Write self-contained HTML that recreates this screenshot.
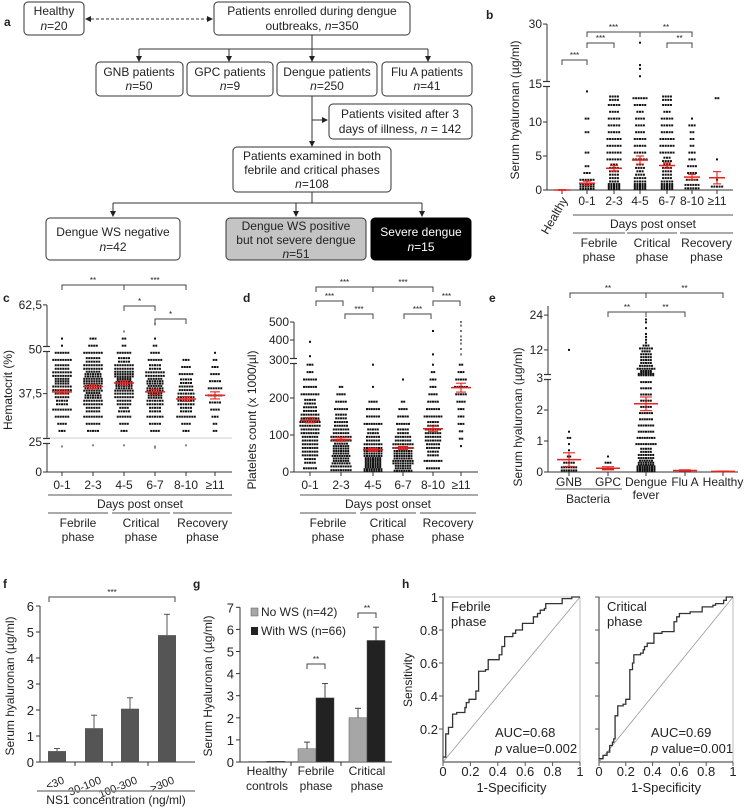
<!DOCTYPE html>
<html><head><meta charset="utf-8"><style>
html,body{margin:0;padding:0;background:#fff}
svg{display:block;font-family:"Liberation Sans",sans-serif}
text{fill:#222}
</style></head><body>
<svg id="fig" width="745" height="808" viewBox="0 0 745 808" xmlns="http://www.w3.org/2000/svg">
<defs><marker id="ah" markerWidth="6" markerHeight="6" refX="5" refY="3" orient="auto"><path d="M0,0 L6,3 L0,6 z" fill="#222"/></marker>
<marker id="ahs" markerWidth="6" markerHeight="6" refX="1" refY="3" orient="auto"><path d="M6,0 L0,3 L6,6 z" fill="#222"/></marker></defs>
<g id="panelA" font-size="12" text-anchor="middle" stroke-width="1">
<text x="4" y="26" font-weight="bold" text-anchor="start" font-size="12">a</text>
<rect x="24" y="2" width="60" height="33" rx="4" fill="#fff" stroke="#333"/>
<text x="54" y="15">Healthy</text><text x="54" y="30"><tspan font-style="italic">n</tspan>=20</text>
<line x1="86" y1="19" x2="212" y2="19" stroke="#333" stroke-dasharray="3,2" marker-end="url(#ah)" marker-start="url(#ahs)"/>
<rect x="214" y="2" width="196" height="33" rx="4" fill="#fff" stroke="#333"/>
<text x="312" y="15">Patients enrolled during dengue</text><text x="312" y="30">outbreaks, <tspan font-style="italic">n</tspan>=350</text>
<path d="M312,35 V49 M139,49 H428" stroke="#333" fill="none"/>
<line x1="139" y1="49" x2="139" y2="61" stroke="#333" marker-end="url(#ah)"/>
<line x1="229" y1="49" x2="229" y2="61" stroke="#333" marker-end="url(#ah)"/>
<line x1="312" y1="49" x2="312" y2="61" stroke="#333" marker-end="url(#ah)"/>
<line x1="428" y1="49" x2="428" y2="61" stroke="#333" marker-end="url(#ah)"/>
<rect x="96" y="62" width="87" height="34" rx="4" fill="#fff" stroke="#333"/>
<text x="139" y="76">GNB patients</text><text x="139" y="90"><tspan font-style="italic">n</tspan>=50</text>
<rect x="187" y="62" width="86" height="34" rx="4" fill="#fff" stroke="#333"/>
<text x="230" y="76">GPC patients</text><text x="230" y="90"><tspan font-style="italic">n</tspan>=9</text>
<rect x="277" y="62" width="100" height="34" rx="4" fill="#fff" stroke="#333"/>
<text x="327" y="76">Dengue patients</text><text x="327" y="90"><tspan font-style="italic">n</tspan>=250</text>
<rect x="382" y="62" width="90" height="34" rx="4" fill="#fff" stroke="#333"/>
<text x="427" y="76">Flu A patients</text><text x="427" y="90"><tspan font-style="italic">n</tspan>=41</text>
<path d="M312,96 V146" stroke="#333" marker-end="url(#ah)"/>
<line x1="312" y1="120" x2="327" y2="120" stroke="#333" marker-end="url(#ah)"/>
<rect x="329" y="104" width="143" height="35" rx="4" fill="#fff" stroke="#333"/>
<text x="400" y="118">Patients visited after 3</text><text x="400" y="133">days of illness, <tspan font-style="italic">n</tspan> = 142</text>
<rect x="233" y="147" width="158" height="45" rx="4" fill="#fff" stroke="#333"/>
<text x="312" y="160">Patients examined in both</text><text x="312" y="174">febrile and critical phases</text><text x="312" y="188"><tspan font-style="italic">n</tspan>=108</text>
<path d="M312,192 V203 M113,203 H422" stroke="#333" fill="none"/>
<line x1="113" y1="203" x2="113" y2="216" stroke="#333" marker-end="url(#ah)"/>
<line x1="296" y1="203" x2="296" y2="216" stroke="#333" marker-end="url(#ah)"/>
<line x1="422" y1="203" x2="422" y2="216" stroke="#333" marker-end="url(#ah)"/>
<rect x="46" y="218" width="134" height="42" rx="4" fill="#fff" stroke="#333"/>
<text x="113" y="236">Dengue WS negative</text><text x="113" y="251"><tspan font-style="italic">n</tspan>=42</text>
<rect x="226" y="218" width="140" height="42" rx="4" fill="#c4c4c4" stroke="#333"/>
<text x="296" y="230">Dengue WS positive</text><text x="296" y="244">but not severe dengue</text><text x="296" y="258"><tspan font-style="italic">n</tspan>=51</text>
<rect x="371" y="218" width="100" height="42" rx="4" fill="#000" stroke="#000"/>
<text x="421" y="236" style="fill:#fff">Severe dengue</text><text x="421" y="251" style="fill:#fff"><tspan font-style="italic">n</tspan>=15</text>
</g>
<g id="charts"></g>
</svg>
<script>
// ---- data arrays ----
const bCats = ['Healthy','0-1','2-3','4-5','6-7','8-10','≥11'];
const bBins = [[0],[18,6,3,2,0,2,0,0,2,0,2,0,0,0],[20,8,8,7,6,6,6,6,5,5,5,4,5,8],[20,10,7,7,6,5,5,5,4,4,4,3,5,6],[20,9,8,7,7,6,6,6,5,5,5,3,4,8],[12,5,4,4,3,3,2,2,2,3,1,0,0,0],[5,1,0,0,1,0,0,0,0,0,0,0,0,2]];
const bExtras = [[],[14.5],[],[16,18,19,25],[],[],[]];
const bMeans = [0,1.0,3.2,4.4,3.6,1.9,1.8];
const bSem = [0.05,0.3,0.4,0.6,0.4,0.4,0.9];
const bTicks = [0,5,10,15,30];

const cCats = ['0-1','2-3','4-5','6-7','8-10','≥11'];
const cBins = [[3,4,6,8,10,12,16,18,16,12,8,6,1,1],[5,6,8,12,16,20,22,24,20,16,12,8,4,3],[3,4,6,9,12,16,22,26,24,16,10,6,2,2],[4,5,7,10,14,18,20,20,16,10,6,4,2,1],[3,4,8,10,14,14,12,10,6,4,3,0,0,0],[2,2,3,4,5,6,6,5,4,3,2,1,0,0]];
const cExtras = [[22],[23],[23,55],[21,22,57],[23],[]];
const cMeans = [38,39.5,40.5,38,36,37];
const cSem = [0.6,0.6,0.7,0.7,0.7,1.0];
const cTicks = [0,25,37.5,50,62.5];
const cTickLabels = ['0','25','37,5','50','62,5'];

const dCats = ['0-1','2-3','4-5','6-7','8-10','≥11'];
const dBins = [[6,10,14,14,14,16,18,16,12,10,8,6,6,3,3],[18,22,22,20,18,14,12,10,6,5,4,2,0,0,0],[30,28,24,16,12,10,8,6,6,4,0,1,0,0,1],[22,26,24,18,14,10,6,5,4,2,0,0,1,0,0],[6,8,10,12,14,14,10,8,6,5,4,3,3,2,1],[0,0,0,1,2,2,3,3,3,4,5,6,5,3,2]];
const dExtras = [[310,390],[],[],[],[320,450],[320,350,380,400,420,450,480,500]];
const dMeans = [140,88,60,65,117,228];
const dSem = [7,5,4,4,7,12];
const dTicks = [0,100,200,300,400,500];

const eCats = ['GNB','GPC','Dengue','Flu A','Healthy'];
const eBins = [[14,5,2,1,1,2,1,0,0,0,0,0,0,0,0],[5,3,1,0,0,0,0,0,0,0,0,0,0,0,0],[40,20,14,10,9,8,7,7,6,6,5,5,5,5,5],[0],[0]];
const eUpperBins = [[0],[0],[14,10,8,6,5,5,5,5,4,6,3,1,1,1,1,0,1,0,1,1],[0],[0]];
const eExtras = [[12],[],[],[],[]];
const eMeans = [0.4,0.12,2.2,0.05,0.02];
const eSem = [0.22,0.05,0.22,0.02,0.01];
const eTicks = [0,1,2,3,12,24];

const fCats = ['<30','30-100','100-300','>300'];
const fVals = [0.42,1.3,2.05,4.88];
const fErr = [0.1,0.5,0.42,0.8];
const fTicks = [0,1,2,3,4,5,6];

const gCats = ['Healthy|controls','Febrile|phase','Critical|phase'];
const gNoWS = [0.03,0.6,2.0];
const gNoWSErr = [0,0.3,0.43];
const gWS = [0.03,2.9,5.5];
const gWSErr = [0,0.65,0.6];
const gTicks = [0,1,2,3,4,5,6,7];

const rocFebX = [0,0.02,0.02,0.04,0.04,0.07,0.07,0.1,0.14,0.16,0.17,0.19,0.23,0.24,0.26,0.26,0.3,0.31,0.33,0.4,0.41,0.43,0.45,0.5,0.51,0.53,0.57,0.58,0.65,0.66,0.69,0.71,0.74,0.75,0.86,0.87,0.93,0.94,1];
const rocFebY = [0.03,0.03,0.17,0.17,0.21,0.21,0.29,0.3,0.3,0.33,0.36,0.38,0.38,0.43,0.44,0.55,0.55,0.56,0.62,0.62,0.65,0.7,0.76,0.76,0.78,0.8,0.8,0.84,0.84,0.88,0.9,0.92,0.93,0.96,0.96,0.99,0.99,1,1];
const rocCritX = [0,0.03,0.06,0.08,0.1,0.11,0.12,0.14,0.18,0.2,0.22,0.23,0.25,0.26,0.31,0.33,0.34,0.36,0.41,0.47,0.53,0.56,0.58,0.6,0.68,0.77,0.85,0.87,0.93,0.95,1];
const rocCritY = [0.02,0.04,0.06,0.1,0.12,0.14,0.28,0.34,0.35,0.38,0.38,0.56,0.6,0.65,0.66,0.68,0.7,0.72,0.78,0.79,0.79,0.85,0.88,0.9,0.91,0.94,0.95,0.96,0.98,1,1];
const rocTicks = [0,0.2,0.4,0.6,0.8,1];

// ---- helpers ----
const NS='http://www.w3.org/2000/svg';
const root=document.getElementById('charts');
function mk(parent,tag,attrs,name,inter){
  const el=document.createElementNS(NS,tag);
  for(const k in attrs) el.setAttribute(k,attrs[k]);
  
  
  parent.appendChild(el); return el;
}
function txt(p,x,y,s,name,opt){
  const o=Object.assign({x:x,y:y,'font-size':12,'text-anchor':'middle'},opt||{});
  const t=mk(p,'text',o,name,false); t.textContent=s; return t;
}
function line(p,x1,y1,x2,y2,name,col,w){
  return mk(p,'line',{x1:x1,y1:y1,x2:x2,y2:y2,stroke:col||'#333','stroke-width':w||1},name,false);
}
function bracket(p,x1,x2,y,label){
  const g=mk(p,'g',{},'significance-bracket',false);
  mk(g,'path',{d:`M${x1},${y+5}V${y}H${x2}V${y+5}`,fill:'none',stroke:'#444','stroke-width':1},'bracket-line',false);
  txt(g,(x1+x2)/2,y-2,label,'significance-stars',{'font-size':8});
}
function swarm(p,cx,bins,lo,bw,sc,maxPer,sp,col){
  bins.forEach((n,k)=>{
    if(!n) return;
    const rows=Math.ceil(n/maxPer); let left=n;
    for(let r=0;r<rows;r++){
      const m=Math.ceil(left/(rows-r)); left-=m;
      const v=lo+k*bw+(r+0.5)/rows*bw; const y=sc(v);
      for(let j=0;j<m;j++){
        const x=cx+(j-(m-1)/2)*sp;
        mk(p,'rect',{x:x-1,y:y-1,width:2,height:2,fill:col||'#111'},'data-point',false);
      }
    }
  });
}
function extrasDots(p,cx,vals,sc,col){
  vals.forEach(v=>{
    mk(p,'rect',{x:cx-1,y:sc(v)-1,width:2,height:2,fill:col||'#111'},'outlier-point',false);
  });
}
function meanMark(p,cx,m,s,sc,w){
  const g=mk(p,'g',{},'mean-sem-marker',false);
  line(g,cx-w,sc(m),cx+w,sc(m),'mean-line','#e8231f',1.5);
  line(g,cx,sc(m-s),cx,sc(m+s),'sem-line','#e8231f',1.1);
  line(g,cx-w/2,sc(m-s),cx+w/2,sc(m-s),'sem-cap','#e8231f',1.1);
  line(g,cx-w/2,sc(m+s),cx+w/2,sc(m+s),'sem-cap','#e8231f',1.1);
}
function breakMark(p,x,y){
  mk(p,'rect',{x:x-4,y:y-2.5,width:8,height:5,fill:'#fff'},'axis-break-gap',false);
  line(p,x-4,y-2.5,x+3,y-2.5,'axis-break-mark','#333',1.2);
  line(p,x-4,y+2.5,x+3,y+2.5,'axis-break-mark','#333',1.2);
}
function phaseLabels(p,xs,y0,name){
  const labs=[['Febrile','phase'],['Critical','phase'],['Recovery','phase']];
  xs.forEach((seg,i)=>{
    line(p,seg[0],y0,seg[1],y0,name+'-phase-line','#555',1);
    txt(p,(seg[0]+seg[1])/2,y0+14,labs[i][0],'phase-label');
    txt(p,(seg[0]+seg[1])/2,y0+28,labs[i][1],'phase-label');
  });
}

// ---- panel b ----
(function(){
  const p=mk(root,'g',{},'panel-b-hyaluronan-by-day',false);
  txt(p,486,19,'b','panel-label-b',{'font-weight':'bold','font-size':12,'text-anchor':'start'});
  const ax=547, y0=190;
  const sc=v=> v<=15 ? y0-v*6.8 : 80-(v-15)*3.73;
  const xs=[562,587,614,640,667,692,717];
  line(p,ax,24,ax,y0,'y-axis'); line(p,ax,y0,733,y0,'x-axis');
  bTicks.forEach(t=>{const y=t===15?84:sc(t);line(p,ax-4,y,ax,y,'y-tick');txt(p,ax-5,y+4,String(t),'y-tick-label',{'text-anchor':'end'});});
  breakMark(p,ax,84);
  mk(p,'text',{x:519,y:110,'font-size':12,'text-anchor':'middle',transform:'rotate(-90 519 110)'},'y-axis-title',false).textContent='Serum hyaluronan  (µg/ml)';
  bCats.forEach((c,i)=>{
    line(p,xs[i],y0,xs[i],y0+4,'x-tick');
    if(i===0){mk(p,'text',{x:xs[i]+6,y:y0+10,'font-size':12,'text-anchor':'end',transform:`rotate(-60 ${xs[i]+6} ${y0+10})`},'x-tick-label',false).textContent=c;}
    else txt(p,xs[i],y0+15,c,'x-tick-label');
    if(i>0) swarm(p,xs[i],bBins[i],0,1,sc,6,2.6);
    extrasDots(p,xs[i],bExtras[i],sc);
    meanMark(p,xs[i],bMeans[i],bSem[i],sc,8);
  });
  line(p,573,215,733,215,'days-line','#555');
  txt(p,653,228,'Days post onset','x-axis-title');
  phaseLabels(p,[[573,625],[627,677],[680,733]],233,'b');
  bracket(p,587,640,32,'***');bracket(p,640,692,32,'**');
  bracket(p,587,614,43,'***');bracket(p,667,692,43,'**');
  bracket(p,562,587,60,'***');
})();

// ---- panel c ----
(function(){
  const p=mk(root,'g',{},'panel-c-hematocrit',false);
  txt(p,3,302,'c','panel-label-c',{'font-weight':'bold','font-size':12,'text-anchor':'start'});
  const ax=47,y0=472;
  const sc=v=> v>=25 ? 438-(v-25)*3.55 : y0-v*1.16;
  const xs=[62,93,124,155,186,215];
  line(p,ax,305,ax,y0,'y-axis'); line(p,ax,y0,232,y0,'x-axis');
  line(p,ax,438,232,438,'reference-line-25','#ccc');
  cTicks.forEach((t,i)=>{const y=t===25?442:sc(t);line(p,ax-4,y,ax,y,'y-tick');txt(p,ax-5,y+4,cTickLabels[i],'y-tick-label',{'text-anchor':'end'});});
  breakMark(p,ax,441);breakMark(p,ax,349);
  mk(p,'text',{x:12,y:390,'font-size':12,'text-anchor':'middle',transform:'rotate(-90 12 390)'},'y-axis-title',false).textContent='Hematocrit (%)';
  cCats.forEach((c,i)=>{
    line(p,xs[i],y0,xs[i],y0+4,'x-tick');
    txt(p,xs[i],y0+17,c,'x-tick-label');
    swarm(p,xs[i],cBins[i],26,2,sc,8,2.5);
    extrasDots(p,xs[i],cExtras[i],sc,'#888');
    meanMark(p,xs[i],cMeans[i],cSem[i],sc,10);
  });
  line(p,48,495,232,495,'days-line','#555');
  txt(p,140,508,'Days post onset','x-axis-title');
  phaseLabels(p,[[48,108],[112,170],[173,232]],513,'c');
  bracket(p,62,124,285,'**');bracket(p,124,186,285,'***');
  bracket(p,124,155,306,'*');bracket(p,155,186,319,'*');
})();

// ---- panel d ----
(function(){
  const p=mk(root,'g',{},'panel-d-platelets',false);
  txt(p,243,302,'d','panel-label-d',{'font-weight':'bold','font-size':12,'text-anchor':'start'});
  const ax=294,y0=472;
  const sc=v=> v<=300 ? y0-v*0.37 : 358-(v-300)*0.18;
  const xs=[310,341,373,403,433,461];
  line(p,ax,322,ax,y0,'y-axis'); line(p,ax,y0,478,y0,'x-axis');
  dTicks.forEach(t=>{const y=t===300?360:sc(t);line(p,ax-4,y,ax,y,'y-tick');txt(p,ax-5,y+4,String(t),'y-tick-label',{'text-anchor':'end'});});
  breakMark(p,ax,361);
  mk(p,'text',{x:256,y:420,'font-size':12,'text-anchor':'middle',transform:'rotate(-90 256 420)'},'y-axis-title',false).textContent='Platelets count (x 1000/µl)';
  dCats.forEach((c,i)=>{
    line(p,xs[i],y0,xs[i],y0+4,'x-tick');
    txt(p,xs[i],y0+17,c,'x-tick-label');
    swarm(p,xs[i],dBins[i],0,20,sc,9,2.4);
    extrasDots(p,xs[i],dExtras[i],sc,i===5?'#777':'#111');
    meanMark(p,xs[i],dMeans[i],dSem[i],sc,10);
  });
  line(p,300,495,478,495,'days-line','#555');
  txt(p,388,508,'Days post onset','x-axis-title');
  phaseLabels(p,[[300,356],[360,416],[420,476]],513,'d');
  bracket(p,316,373,287,'***');bracket(p,373,433,287,'***');
  bracket(p,316,343,301,'***');bracket(p,433,460,301,'***');
  bracket(p,345,373,314,'***');bracket(p,404,431,314,'***');
})();

// ---- panel e ----
(function(){
  const p=mk(root,'g',{},'panel-e-hyaluronan-by-disease',false);
  txt(p,489,302,'e','panel-label-e',{'font-weight':'bold','font-size':12,'text-anchor':'start'});
  const ax=548,y0=472;
  const sc=v=> v<=3 ? y0-v*31 : 376-(v-3)*2.9;
  const xs=[569,608,646,685,723];
  line(p,ax,306,ax,y0,'y-axis'); line(p,ax,y0,738,y0,'x-axis');
  eTicks.forEach(t=>{const y=t===3?378:sc(t);line(p,ax-4,y,ax,y,'y-tick');txt(p,ax-5,y+4,String(t),'y-tick-label',{'text-anchor':'end'});});
  breakMark(p,ax,377);
  mk(p,'text',{x:522,y:417,'font-size':12,'text-anchor':'middle',transform:'rotate(-90 522 417)'},'y-axis-title',false).textContent='Serum hyaluronan  (µg/ml)';
  eCats.forEach((c,i)=>{
    line(p,xs[i],y0,xs[i],y0+4,'x-tick');
    txt(p,xs[i],y0+14,c,'x-tick-label');
    swarm(p,xs[i],eBins[i],0,0.2,sc,9,2.4);
    swarm(p,xs[i],eUpperBins[i],3,1,sc,9,2.4);
    extrasDots(p,xs[i],eExtras[i],sc);
    meanMark(p,xs[i],eMeans[i],eSem[i],sc,12);
  });
  txt(p,646,499,'fever','x-tick-label-fever');
  line(p,555,489,622,489,'bacteria-line','#555');
  txt(p,588,503,'Bacteria','group-label');
  bracket(p,570,646,293,'**');bracket(p,646,723,293,'**');
  bracket(p,608,646,312,'**');bracket(p,646,685,312,'**');
})();

// ---- panel f ----
(function(){
  const p=mk(root,'g',{},'panel-f-ns1-bar-chart',false);
  txt(p,3,588,'f','panel-label-f',{'font-weight':'bold','font-size':12,'text-anchor':'start'});
  const ax=40,y0=762,u=26;
  const sc=v=>y0-v*u;
  const xs=[57,94,130,167];
  line(p,ax,sc(6),ax,y0,'y-axis'); line(p,ax,y0,195,y0,'x-axis');
  fTicks.forEach(t=>{line(p,ax-4,sc(t),ax,sc(t),'y-tick');txt(p,ax-6,sc(t)+5,String(t),'y-tick-label',{'text-anchor':'end','font-size':13});});
  [75,112,148].forEach(x=>line(p,x,y0,x,y0+4,'x-tick'));
  mk(p,'text',{x:14,y:686,'font-size':12,'text-anchor':'middle',transform:'rotate(-90 14 686)'},'y-axis-title',false).textContent='Serum hyaluronan  (µg/ml)';
  fCats.forEach((c,i)=>{
    line(p,xs[i],sc(fVals[i]),xs[i],sc(fVals[i]+fErr[i]),'error-bar','#555');
    line(p,xs[i]-3,sc(fVals[i]+fErr[i]),xs[i]+3,sc(fVals[i]+fErr[i]),'error-cap','#555');
    mk(p,'rect',{x:xs[i]-9,y:sc(fVals[i]),width:18,height:fVals[i]*u,fill:'#555'},'bar-'+c,false);
    mk(p,'text',{x:xs[i]+8,y:783,'font-size':11,'text-anchor':'end',transform:`rotate(-22 ${xs[i]+8} 783)`},'x-tick-label',false).textContent=c;
  });
  line(p,37,791,195,791,'ns1-line','#888',1.5);
  txt(p,116,804,'NS1 concentration  (ng/ml)','x-axis-title');
  bracket(p,49,175,597,'***');
})();

// ---- panel g ----
(function(){
  const p=mk(root,'g',{},'panel-g-ws-bar-chart',false);
  txt(p,193,588,'g','panel-label-g',{'font-weight':'bold','font-size':12,'text-anchor':'start'});
  const ax=240,y0=762,u=22.1;
  const sc=v=>y0-v*u;
  const cx=[267,316,367];
  line(p,ax,sc(7),ax,y0,'y-axis'); line(p,ax,y0,392,y0,'x-axis');
  [291,341].forEach(x=>line(p,x,y0,x,y0+4,'x-tick'));
  gTicks.forEach(t=>{line(p,ax-4,sc(t),ax,sc(t),'y-tick');txt(p,ax-6,sc(t)+5,String(t),'y-tick-label',{'text-anchor':'end','font-size':13});});
  mk(p,'text',{x:212,y:686,'font-size':12,'text-anchor':'middle',transform:'rotate(-90 212 686)'},'y-axis-title',false).textContent='Serum Hyaluronan  (µg/ml)';
  gCats.forEach((c,i)=>{
    const parts=c.split('|');
    [[gNoWS,gNoWSErr,'#a6a6a6',-9,'bar-no-ws'],[gWS,gWSErr,'#222',9,'bar-with-ws']].forEach(s=>{
      const v=s[0][i],e=s[1][i],x=cx[i]+s[3];
      if(e>0){line(p,x,sc(v),x,sc(v+e),'error-bar','#444');line(p,x-3,sc(v+e),x+3,sc(v+e),'error-cap','#444');}
      mk(p,'rect',{x:x-9,y:sc(v),width:18,height:Math.max(v*u,1),fill:s[2],stroke:'#555','stroke-width':0.5},s[4],false);
    });
    txt(p,cx[i],775,parts[0],'x-tick-label');
    txt(p,cx[i],790,parts[1],'x-tick-label');
  });
  mk(p,'rect',{x:251,y:608,width:7,height:8,fill:'#a6a6a6',stroke:'#555','stroke-width':0.5},'legend-swatch-no-ws',false);
  txt(p,261,616,'No WS (n=42)','legend-entry-no-ws',{'text-anchor':'start'});
  mk(p,'rect',{x:251,y:627,width:7,height:8,fill:'#222'},'legend-swatch-with-ws',false);
  txt(p,261,635,'With WS (n=66)','legend-entry-with-ws',{'text-anchor':'start'});
  bracket(p,307,325,664,'**');bracket(p,358,376,613,'**');
})();

// ---- panel h ----
(function(){
  const p=mk(root,'g',{},'panel-h-roc-curves',false);
  txt(p,402,588,'h','panel-label-h',{'font-weight':'bold','font-size':12,'text-anchor':'start'});
  const y0=762,y1=597;
  const sy=v=>y0-v*(y0-y1);
  mk(p,'text',{x:412,y:680,'font-size':12,'text-anchor':'middle',transform:'rotate(-90 412 680)'},'y-axis-title',false).textContent='Sensitivity';
  const panels=[[443,580,rocFebX,rocFebY,'Febrile','AUC=0.68','0.002','roc-febrile'],[599,733,rocCritX,rocCritY,'Critical','AUC=0.69','0.001','roc-critical']];
  panels.forEach((P,k)=>{
    const g=mk(p,'g',{},P[7],false);
    const sx=v=>P[0]+v*(P[1]-P[0]);
    mk(g,'rect',{x:P[0],y:y1,width:P[1]-P[0],height:y0-y1,fill:'none',stroke:'#bbb'},'plot-frame',false);
    line(g,P[0],y1,P[0],y0,'y-axis','#333');line(g,P[0],y0,P[1],y0,'x-axis','#333');
    line(g,sx(0),sy(0),sx(1),sy(1),'diagonal-reference','#999',0.8);
    rocTicks.forEach(t=>{
      line(g,sx(t),y0,sx(t),y0+4,'x-tick','#555');
      txt(g,sx(t),776,String(t),'x-tick-label',{'font-size':13});
      if(t>0){line(g,P[0]-4,sy(t),P[0],sy(t),'y-tick','#555');
        if(k===0) txt(g,P[0]-5,sy(t)+5,String(t),'y-tick-label',{'text-anchor':'end','font-size':13});}
    });
    let d=`M${sx(0)},${sy(P[3][0])}`;
    P[2].forEach((x,i)=>{d+=`H${sx(x)}V${sy(P[3][i])}`;});
    mk(g,'path',{d:d,fill:'none',stroke:'#333','stroke-width':1.3},'roc-curve',false);
    txt(g,P[0]+8,611,P[4],'phase-label',{'text-anchor':'start','font-size':13});
    txt(g,P[0]+8,626,'phase','phase-label',{'text-anchor':'start','font-size':13});
    txt(g,P[0]+52,737,P[5],'auc-label',{'text-anchor':'start','font-size':13});
    const t=txt(g,P[0]+52,753,'','p-value-label',{'text-anchor':'start','font-size':13});
    t.innerHTML='<tspan font-style="italic">p</tspan> value='+P[6];
    txt(g,(P[0]+P[1])/2,792,'1-Specificity','x-axis-title',{'font-size':13});
  });
})();
</script>
</body></html>
